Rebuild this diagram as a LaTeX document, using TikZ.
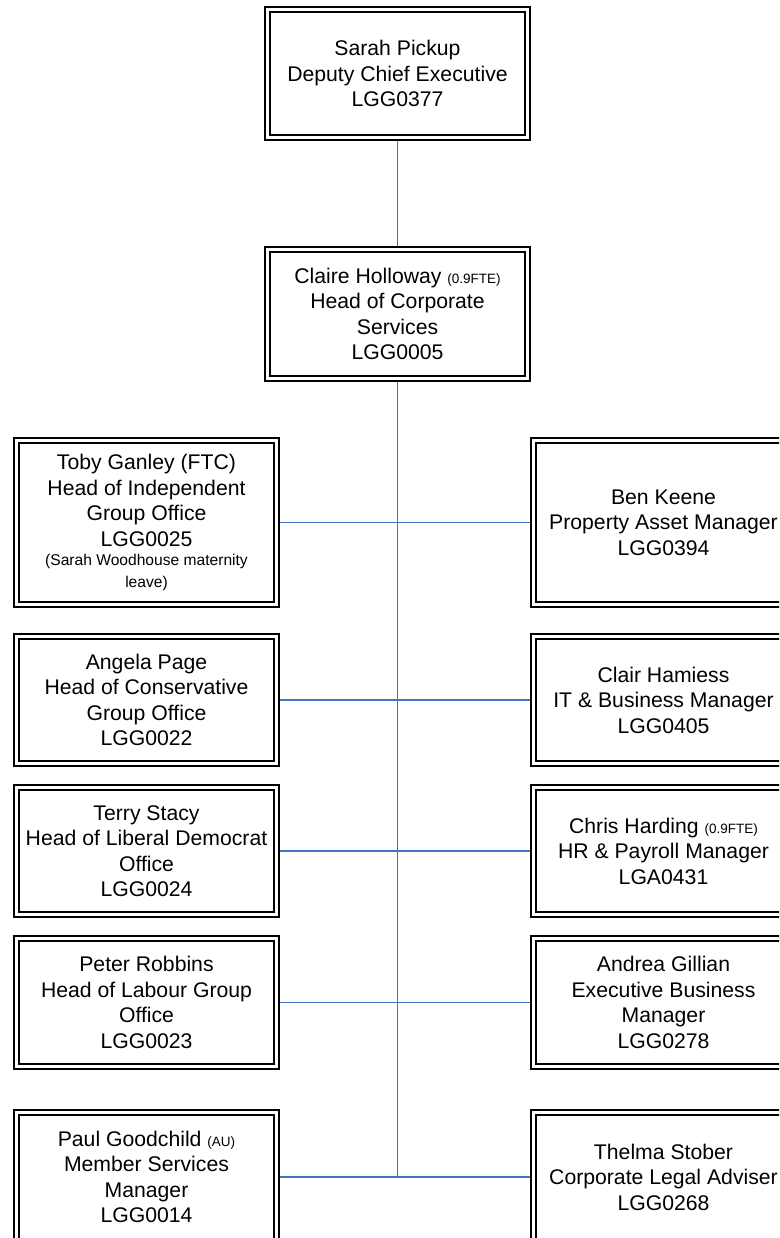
\documentclass[tikz,border=0pt]{standalone}
\usepackage{fontspec}
\setmainfont{Liberation Sans}
\usetikzlibrary{backgrounds}
\definecolor{linkblue}{HTML}{4472C4}
\newcommand{\smallnote}{\fontsize{13.5}{16}\selectfont}
\newcommand{\leavenote}{\fontsize{15.6}{19}\selectfont}
\begin{document}
\begin{tikzpicture}[x=1pt,y=-1pt,
  staffbox/.style={draw=black, line width=1.6pt, double=white, double distance=3.4pt,
    minimum width=260pt, minimum height=128pt, inner sep=0pt, align=center,
    font=\fontsize{21.2}{25.5}\selectfont},
  link/.style={draw=linkblue, line width=1.8pt}]
\useasboundingbox (0,0) rectangle (779,1238);
\clip (0,0) rectangle (779,1238);
% top
\node[staffbox] (sarah) at (397.5,73.5) {Sarah Pickup\\Deputy Chief Executive\\LGG0377};
\node[staffbox, minimum height=129pt] (claire) at (397.5,314) {Claire Holloway {\smallnote(0.9FTE)}\\Head of Corporate\\Services\\LGG0005};
% left column
\node[staffbox, minimum height=164pt] (toby) at (146.5,522.5) {Toby Ganley (FTC)\\Head of Independent\\Group Office\\LGG0025\\[-6pt]{\leavenote(Sarah Woodhouse maternity}\\[-4pt]{\leavenote leave)}};
\node[staffbox, minimum height=127pt] (angela) at (146.5,700) {Angela Page\\Head of Conservative\\Group Office\\LGG0022};
\node[staffbox, minimum height=127pt] (terry) at (146.5,851) {Terry Stacy\\Head of Liberal Democrat\\Office\\LGG0024};
\node[staffbox] (peter) at (146.5,1002.5) {Peter Robbins\\Head of Labour Group\\Office\\LGG0023};
\node[staffbox, minimum height=129pt] (paul) at (146.5,1177) {Paul Goodchild {\smallnote(AU)}\\Member Services\\Manager\\LGG0014};
% right column
\node[staffbox, minimum height=164pt] (ben) at (663.5,522.5) {Ben Keene\\Property Asset Manager\\LGG0394};
\node[staffbox, minimum height=127pt] (clair) at (663.5,700) {Clair Hamiess\\IT \& Business Manager\\LGG0405};
\node[staffbox, minimum height=127pt] (chris) at (663.5,851) {Chris Harding {\smallnote(0.9FTE)}\\HR \& Payroll Manager\\LGA0431};
\node[staffbox] (andrea) at (663.5,1002.5) {Andrea Gillian\\Executive Business\\Manager\\LGG0278};
\node[staffbox, minimum height=129pt] (thelma) at (663.5,1177) {Thelma Stober\\Corporate Legal Adviser\\LGG0268};
\coordinate (trunkend) at (claire.south |- paul.east);
\begin{scope}[on background layer]
\draw[link] (sarah.south) -- (claire.north);
\draw[link] (claire.south) -- (trunkend);
\draw[link] (toby.east) -- (ben.west);
\draw[link] (angela.east) -- (clair.west);
\draw[link] (terry.east) -- (chris.west);
\draw[link] (peter.east) -- (andrea.west);
\draw[link] (paul.east) -- (thelma.west);
\end{scope}
\end{tikzpicture}
\end{document}
